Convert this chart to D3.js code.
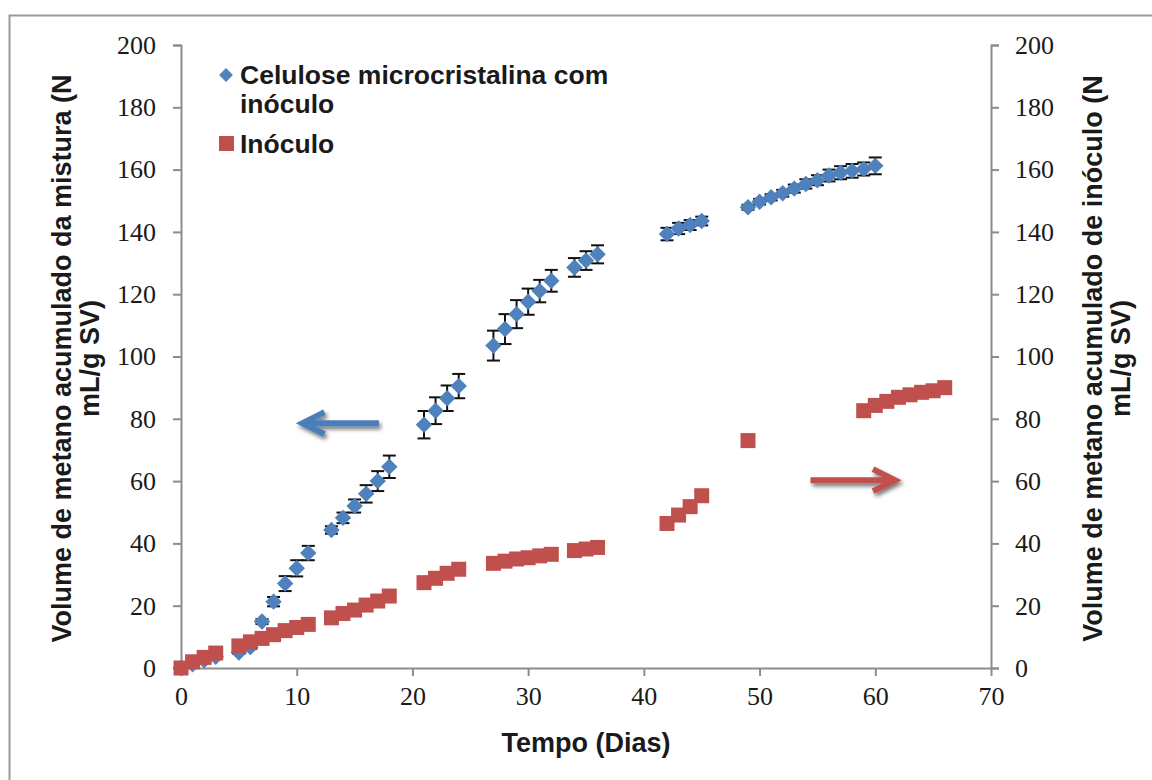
<!DOCTYPE html>
<html>
<head>
<meta charset="utf-8">
<script src="https://cdn.jsdelivr.net/npm/d3@7"></script>
<style>
  html, body { margin: 0; padding: 0; background: #fff; }
  svg { display: block; }
</style>
</head>
<body>
<svg id="chart" width="1152" height="780"></svg>
<script>
// Cumulative methane volume: cellulose + inoculum (left axis) and inoculum alone (right axis)
const mixDays = [0,1,2,3,5,6,7,8,9,10,11,13,14,15,16,17,18,21,22,23,24,27,28,29,30,31,32,34,35,36,42,43,44,45,49,50,51,52,53,54,55,56,57,58,59,60];
const mixValues = [0,1.2,2.5,3.6,5.0,6.7,14.9,21.3,27.1,32.0,36.9,44.3,48.2,52.0,55.9,60.0,64.6,78.1,82.6,86.6,90.5,103.5,108.8,113.6,117.6,121.0,124.3,128.6,130.8,132.8,139.3,141.1,142.2,143.5,147.9,149.7,151.1,152.4,153.9,155.4,156.6,158.1,159.0,159.6,160.2,161.2];
const mixErrors = [0,0.3,0.4,0.5,0.5,0.6,0.8,1.5,2.4,2.6,2.3,1.2,1.7,2.1,2.8,3.2,3.6,4.4,4.3,4.1,3.9,4.8,4.8,4.5,4.2,3.6,3.5,3.0,3.0,2.9,2.0,1.8,1.6,1.4,0.8,0.9,1.0,1.1,1.3,1.5,1.6,1.9,2.1,2.2,2.1,2.7];

const inocDays = [0,1,2,3,5,6,7,8,9,10,11,13,14,15,16,17,18,21,22,23,24,27,28,29,30,31,32,34,35,36,42,43,44,45,49,59,60,61,62,63,64,65,66];
const inocValues = [0,2.0,3.4,4.8,7.1,8.4,9.5,10.7,12.0,13.0,14.0,16.1,17.5,18.6,20.2,21.5,23.1,27.4,28.8,30.4,31.7,33.6,34.3,35.0,35.4,36.0,36.5,37.7,38.2,38.7,46.4,49.1,51.8,55.3,73.0,82.6,84.3,85.6,86.9,87.7,88.5,89.0,90.0];

const xTicks = [0,10,20,30,40,50,60,70];
const yTicks = [0,20,40,60,80,100,120,140,160,180,200];

const seriesNames = ["Celulose microcristalina com", "inóculo", "Inóculo"];
const xTitle = "Tempo (Dias)";
const leftTitle = ["Volume de metano acumulado da mistura (N", "mL/g SV)"];
const rightTitle = ["Volume de metano acumulado de inóculo (N", "mL/g SV)"];

// Arrow annotations (in data units): each points towards the axis its series uses
const blueArrow = {from: [17.1, 78.6], to: [10.5, 78.6]};
const redArrow = {from: [54.4, 60.3], to: [61.7, 60.3]};

const BLUE = "#4F81BD", RED = "#C0504D", AXIS = "#8C8C8C";

const svg = d3.select("#chart");
const plot = {left: 181, right: 991, top: 45, bottom: 668};

const x = d3.scaleLinear().domain([0, 70]).range([plot.left, plot.right]);
const yL = d3.scaleLinear().domain([0, 200]).range([plot.bottom, plot.top]);
const yR = d3.scaleLinear().domain([0, 200]).range([plot.bottom, plot.top]);

// Outer chart frame
svg.append("rect").attr("x", 9.5).attr("y", 15.5).attr("width", 1160).attr("height", 800)
  .attr("fill", "#fff").attr("stroke", "#9a9a9a").attr("stroke-width", 2);

const tickFont = "'Liberation Serif', 'Times New Roman', serif";
const boldFont = "'Liberation Sans', Arial, sans-serif";

function styleAxis(g) {
  g.selectAll(".domain").attr("stroke", AXIS).attr("stroke-width", 2);
  g.selectAll(".tick line").attr("stroke", AXIS).attr("stroke-width", 2);
  g.selectAll(".tick text").attr("fill", "#1a1a1a").style("font-family", tickFont).style("font-size", "26px");
}

const gx = svg.append("g").attr("transform", `translate(0,${plot.bottom})`)
  .call(d3.axisBottom(x).tickValues(xTicks).tickSize(8).tickSizeOuter(0).tickPadding(11).tickFormat(d3.format("d")));
styleAxis(gx);

const gyl = svg.append("g").attr("transform", `translate(${plot.left},0)`)
  .call(d3.axisLeft(yL).tickValues(yTicks).tickSize(8).tickSizeOuter(8).tickPadding(17).tickFormat(d3.format("d")));
styleAxis(gyl);

const gyr = svg.append("g").attr("transform", `translate(${plot.right},0)`)
  .call(d3.axisRight(yR).tickValues(yTicks).tickSize(8).tickSizeOuter(8).tickPadding(16).tickFormat(d3.format("d")));
styleAxis(gyr);

// Axis titles
const titleSize = "27px";
svg.append("text").attr("x", (plot.left + plot.right) / 2).attr("y", 752)
  .attr("text-anchor", "middle").style("font-family", boldFont).style("font-weight", "bold")
  .style("font-size", titleSize).attr("fill", "#1a1a1a").text(xTitle);

const cy = (plot.top + plot.bottom) / 2 + 2;
leftTitle.forEach((t, i) => {
  svg.append("text").attr("transform", `translate(${71 + i * 28},${cy}) rotate(-90)`)
    .attr("text-anchor", "middle").style("font-family", boldFont).style("font-weight", "bold")
    .style("font-size", titleSize).attr("fill", "#1a1a1a").text(t);
});
rightTitle.forEach((t, i) => {
  svg.append("text").attr("transform", `translate(${1102 + i * 28},${cy}) rotate(-90)`)
    .attr("text-anchor", "middle").style("font-family", boldFont).style("font-weight", "bold")
    .style("font-size", titleSize).attr("fill", "#1a1a1a").text(t);
});

// Drop shadow for the arrows
const defs = svg.append("defs");
const f = defs.append("filter").attr("id", "shadow").attr("x", "-20%").attr("y", "-50%").attr("width", "140%").attr("height", "200%");
f.append("feGaussianBlur").attr("in", "SourceAlpha").attr("stdDeviation", 2.2).attr("result", "b");
f.append("feOffset").attr("in", "b").attr("dx", 2).attr("dy", 3).attr("result", "o");
f.append("feComponentTransfer").attr("in", "o").attr("result", "s")
  .append("feFuncA").attr("type", "linear").attr("slope", 0.55);
const fm = f.append("feMerge");
fm.append("feMergeNode").attr("in", "s");
fm.append("feMergeNode").attr("in", "SourceGraphic");

function arrow(a, color, scaleY) {
  const x1 = x(a.from[0]), y1 = scaleY(a.from[1]);
  const x2 = x(a.to[0]), y2 = scaleY(a.to[1]);
  const dir = Math.sign(x2 - x1);
  const hx = x2 - dir * 22;
  const p = `M${x1},${y1} L${x2},${y2} M${hx},${y2 - 11} L${x2},${y2} L${hx},${y2 + 11}`;
  svg.append("path").attr("d", p).attr("fill", "none").attr("stroke", color)
    .attr("stroke-width", 6).attr("stroke-linecap", "butt").attr("stroke-linejoin", "miter")
    .attr("filter", "url(#shadow)");
}
arrow(blueArrow, "#4A7EBB", yL);
arrow(redArrow, RED, yR);

// Error bars for the mixture series
const mix = mixDays.map((d, i) => ({d, v: mixValues[i], e: mixErrors[i]}));
const eg = svg.append("g").attr("stroke", "#111").attr("stroke-width", 2);
mix.filter(p => p.e > 0).forEach(p => {
  const cx = x(p.d), yt = yL(p.v + p.e), yb = yL(p.v - p.e);
  eg.append("line").attr("x1", cx).attr("x2", cx).attr("y1", yt).attr("y2", yb);
  eg.append("line").attr("x1", cx - 6.5).attr("x2", cx + 6.5).attr("y1", yt).attr("y2", yt);
  eg.append("line").attr("x1", cx - 6.5).attr("x2", cx + 6.5).attr("y1", yb).attr("y2", yb);
});

// Mixture markers (diamonds)
const diamond = d3.symbol().type(d3.symbolSquare).size(135);
svg.append("g").selectAll("path").data(mix).join("path")
  .attr("d", diamond)
  .attr("transform", p => `translate(${x(p.d)},${yL(p.v)}) rotate(45)`)
  .attr("fill", BLUE);

// Inoculum markers (squares), on the right axis
const inoc = inocDays.map((d, i) => ({d, v: inocValues[i]}));
svg.append("g").selectAll("rect").data(inoc).join("rect")
  .attr("x", p => x(p.d) - 7.5).attr("y", p => yR(p.v) - 7.5)
  .attr("width", 15).attr("height", 15).attr("fill", RED);

// Legend
const lg = svg.append("g");
lg.append("path").attr("d", d3.symbol().type(d3.symbolSquare).size(95))
  .attr("transform", "translate(226,75) rotate(45)").attr("fill", BLUE);
lg.append("rect").attr("x", 219).attr("y", 136).attr("width", 15).attr("height", 15).attr("fill", RED);
const legendText = (t, y) => lg.append("text").attr("x", 240).attr("y", y)
  .style("font-family", boldFont).style("font-weight", "bold").style("font-size", "26.5px")
  .attr("fill", "#1a1a1a").text(t);
legendText(seriesNames[0], 84);
legendText(seriesNames[1], 113);
legendText(seriesNames[2], 153);
</script>
</body>
</html>
